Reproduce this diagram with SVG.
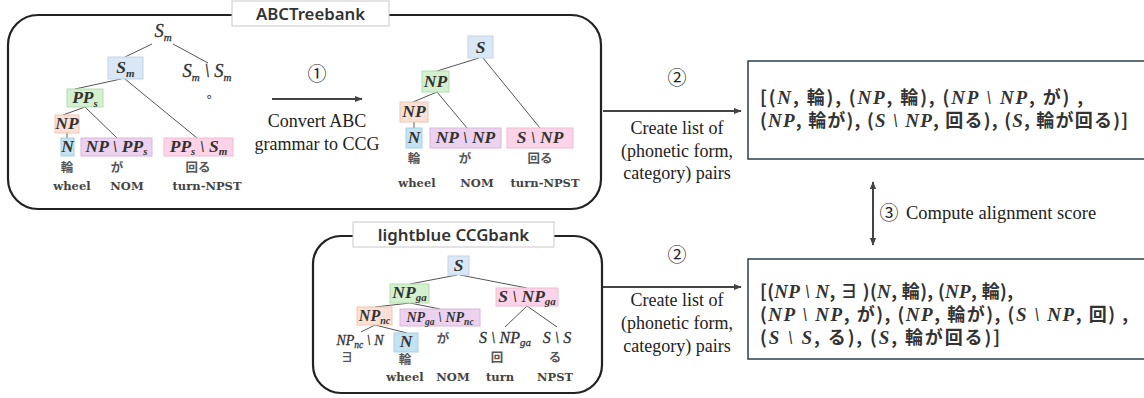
<svg xmlns="http://www.w3.org/2000/svg" width="1144" height="398" viewBox="0 0 1144 398">
<defs>
<marker id="ah" viewBox="0 0 10 10" refX="9" refY="5" markerWidth="4" markerHeight="4" orient="auto-start-reverse">
<path d="M0,1 L10,5 L0,9 z" fill="#444"/>
</marker>
<style>
.frame{fill:#fff;stroke:#222;stroke-width:2.2}
.lab{fill:#fff;stroke:#c9c9c9;stroke-width:1}
.labt{font-family:"Noto Sans","Noto Sans CJK JP",sans-serif;font-weight:600;font-size:16.8px;fill:#333;text-anchor:middle}
.cat{font-family:"Liberation Serif",serif;font-style:italic;font-weight:700;font-size:17.5px;fill:#333;text-anchor:middle}
.catn{font-family:"Liberation Serif",serif;font-style:italic;font-size:18.5px;fill:#333;stroke:#333;stroke-width:0.3;text-anchor:middle}
.sub{font-size:11px}
.jp{font-family:"Noto Sans CJK JP",sans-serif;font-weight:700;font-size:12.5px;fill:#555;text-anchor:middle}
.gl{font-family:"DejaVu Serif",serif;font-weight:700;font-size:11.5px;fill:#444;text-anchor:middle}
.tl{stroke:#555;stroke-width:1;fill:none}
.blue{fill:#dae7f4;stroke:#c3d3e6;stroke-width:1}
.cyan{fill:#c3e3f2;stroke:#a9d0e4;stroke-width:1}
.green{fill:#d3f0cf;stroke:#b5dbaf;stroke-width:1}
.peach{fill:#fbe1d5;stroke:#efc6b3;stroke-width:1}
.purple{fill:#ecd2ef;stroke:#d9b7dd;stroke-width:1}
.pink{fill:#fdd4e7;stroke:#f2b9d3;stroke-width:1}
.ser{font-family:"Liberation Serif",serif;font-size:18px;fill:#222;text-anchor:middle}
.num{font-family:"Noto Sans CJK JP",sans-serif;font-size:19px;fill:#222;text-anchor:middle}
.arr{stroke:#444;stroke-width:2;fill:none}
.res{fill:#fff;stroke:#2e3e4e;stroke-width:1.5}
.lst{font-family:"Noto Sans CJK JP",sans-serif;font-weight:700;font-size:18px;fill:#333}
.m{font-family:"Liberation Serif",serif;font-style:italic;font-weight:700;font-size:19px}
</style>
</defs>
<rect width="1144" height="398" fill="#fff"/>

<g id="abc-treebank">
<rect class="frame" x="8" y="15" width="593" height="194" rx="30"/>
<rect class="lab" x="232" y="1" width="157" height="25"/>
<text class="labt" x="310.5" y="19.5">ABCTreebank</text>
</g>

<g id="abc-tree">
<g class="tl">
<line x1="152" y1="44" x2="125" y2="57"/>
<line x1="173" y1="44" x2="208" y2="63"/>
<line x1="121" y1="79" x2="75" y2="89"/>
<line x1="125" y1="79" x2="197" y2="138"/>
<line x1="85" y1="107" x2="63" y2="115"/>
<line x1="85" y1="107" x2="117" y2="138"/>
<line x1="67" y1="133" x2="67" y2="138"/>
</g>
<text class="catn" x="163" y="37">S<tspan class="sub" dy="4">m</tspan></text>
<rect class="blue" x="108" y="57" width="35" height="22"/>
<text class="cat" x="125.5" y="73">S<tspan class="sub" dy="4">m</tspan></text>
<text class="catn" x="207" y="77">S<tspan class="sub" dy="4">m</tspan><tspan dy="-4"> \ S</tspan><tspan class="sub" dy="4">m</tspan></text>
<text class="jp" x="213" y="98">。</text>
<rect class="green" x="67" y="89" width="36" height="18"/>
<text class="cat" x="85" y="103">PP<tspan class="sub" dy="4">s</tspan></text>
<rect class="peach" x="55" y="115" width="24" height="18"/>
<text class="cat" x="67" y="129">NP</text>
<rect class="cyan" x="61" y="138" width="13" height="18"/>
<text class="cat" x="67.5" y="152">N</text>
<rect class="purple" x="81" y="138" width="71" height="18"/>
<text class="cat" x="116.5" y="152">NP \ PP<tspan class="sub" dy="3">s</tspan></text>
<rect class="pink" x="164" y="138" width="69" height="18"/>
<text class="cat" x="198.5" y="152">PP<tspan class="sub" dy="3">s</tspan><tspan dy="-3"> \ S</tspan><tspan class="sub" dy="3">m</tspan></text>
<text class="jp" x="67" y="172">輪</text>
<text class="jp" x="117" y="172">が</text>
<text class="jp" x="198" y="172">回る</text>
<text class="gl" x="72" y="190">wheel</text>
<text class="gl" x="127" y="190">NOM</text>
<text class="gl" x="207" y="190">turn-NPST</text>
</g>

<g id="converted-tree">
<g class="tl">
<line x1="479" y1="58" x2="437" y2="71"/>
<line x1="483" y1="58" x2="540" y2="128"/>
<line x1="437" y1="92" x2="413" y2="102"/>
<line x1="437" y1="92" x2="467" y2="128"/>
<line x1="414" y1="122" x2="414" y2="128"/>
</g>
<rect class="blue" x="468" y="36" width="25" height="22"/>
<text class="cat" x="480.5" y="53">S</text>
<rect class="green" x="422" y="71" width="27" height="21"/>
<text class="cat" x="435.5" y="87">NP</text>
<rect class="peach" x="400" y="102" width="28" height="20"/>
<text class="cat" x="414" y="117">NP</text>
<rect class="cyan" x="406" y="128" width="16" height="20"/>
<text class="cat" x="414" y="143">N</text>
<rect class="purple" x="430" y="128" width="71" height="20"/>
<text class="cat" x="465.5" y="143">NP \ NP</text>
<rect class="pink" x="507" y="128" width="66" height="20"/>
<text class="cat" x="540" y="143">S \ NP</text>
<text class="jp" x="414" y="163">輪</text>
<text class="jp" x="465" y="163">が</text>
<text class="jp" x="540" y="163">回る</text>
<text class="gl" x="417" y="187">wheel</text>
<text class="gl" x="477" y="187">NOM</text>
<text class="gl" x="545" y="187">turn-NPST</text>
</g>

<g id="lightblue-ccgbank">
<rect class="frame" x="313" y="236" width="289" height="157" rx="28"/>
<rect class="lab" x="353" y="222" width="201" height="25"/>
<text class="labt" x="453.5" y="240.5">lightblue CCGbank</text>
</g>

<g id="ccg-tree">
<g class="tl">
<line x1="457" y1="275" x2="410" y2="284"/>
<line x1="460" y1="275" x2="527" y2="288"/>
<line x1="410" y1="303" x2="375" y2="307"/>
<line x1="410" y1="303" x2="440" y2="309"/>
<line x1="527" y1="306" x2="505" y2="327"/>
<line x1="527" y1="306" x2="557" y2="327"/>
<line x1="375" y1="325" x2="361" y2="332"/>
<line x1="375" y1="325" x2="407" y2="333"/>
</g>
<rect class="blue" x="448" y="256" width="21" height="19"/>
<text class="cat" x="458.5" y="271">S</text>
<rect class="green" x="390" y="284" width="39" height="19"/>
<text class="cat" x="409.5" y="298">NP<tspan class="sub" dy="3">ga</tspan></text>
<rect class="pink" x="496" y="288" width="62" height="18"/>
<text class="cat" x="527" y="302">S \ NP<tspan class="sub" dy="3">ga</tspan></text>
<rect class="peach" x="357" y="307" width="35" height="18"/>
<text class="cat" x="374.5" y="321" style="font-size:16px">NP<tspan class="sub" dy="3" style="font-size:10px">nc</tspan></text>
<rect class="purple" x="400" y="309" width="80" height="17"/>
<text class="cat" x="440" y="322" style="font-size:14px">NP<tspan dy="3" style="font-size:9.5px">ga</tspan><tspan dy="-3"> \ NP</tspan><tspan dy="3" style="font-size:9.5px">nc</tspan></text>
<rect class="cyan" x="394" y="333" width="24" height="19"/>
<text class="cat" x="406" y="347">N</text>
<text class="catn" x="360" y="345" style="font-size:14px">NP<tspan dy="3" style="font-size:9.5px">nc</tspan><tspan dy="-3"> \ N</tspan></text>
<text class="jp" x="443" y="343">が</text>
<text class="catn" x="505" y="343" style="font-size:16px">S \ NP<tspan class="sub" dy="3">ga</tspan></text>
<text class="catn" x="557" y="343" style="font-size:16px">S \ S</text>
<text class="jp" x="347" y="362">∃</text>
<text class="jp" x="405" y="364">輪</text>
<text class="jp" x="497" y="362">回</text>
<text class="jp" x="555" y="362">る</text>
<text class="gl" x="405" y="381">wheel</text>
<text class="gl" x="453" y="381">NOM</text>
<text class="gl" x="500" y="381">turn</text>
<text class="gl" x="555" y="381">NPST</text>
</g>

<g id="connectors">
<line class="arr" x1="272" y1="99" x2="362" y2="99" marker-end="url(#ah)"/>
<line class="arr" x1="603" y1="111" x2="741" y2="111" marker-end="url(#ah)"/>
<line class="arr" x1="603" y1="287" x2="741" y2="287" marker-end="url(#ah)"/>
<line class="arr" x1="873" y1="182" x2="873" y2="245" marker-start="url(#ah)" marker-end="url(#ah)"/>
</g>

<g id="step-labels">
<text class="num" x="317" y="81">①</text>
<text class="ser" x="317" y="127">Convert ABC</text>
<text class="ser" x="317" y="150">grammar  to CCG</text>
<text class="num" x="677" y="85">②</text>
<text class="ser" x="677" y="134">Create list of</text>
<text class="ser" x="677" y="157">(phonetic form,</text>
<text class="ser" x="677" y="179">category) pairs</text>
<text class="num" x="677" y="262">②</text>
<text class="ser" x="677" y="306">Create list of</text>
<text class="ser" x="677" y="329">(phonetic form,</text>
<text class="ser" x="677" y="352">category) pairs</text>
<text class="num" x="889" y="220">③</text>
<text class="ser" x="906" y="219" style="text-anchor:start;font-size:18.5px">Compute alignment score</text>
</g>

<g id="abc-list">
<rect class="res" x="748" y="61" width="420" height="98"/>
<text class="lst" x="760" y="104" textLength="323" lengthAdjust="spacing">[(<tspan class="m">N</tspan>, 輪), (<tspan class="m">NP</tspan>, 輪), (<tspan class="m">NP \ NP</tspan>, が) ,</text>
<text class="lst" x="760" y="127" textLength="368" lengthAdjust="spacing">(<tspan class="m">NP</tspan>, 輪が), (<tspan class="m">S \ NP</tspan>, 回る), (<tspan class="m">S</tspan>, 輪が回る)]</text>
</g>

<g id="ccg-list">
<rect class="res" x="748" y="259" width="420" height="100"/>
<text class="lst" x="760" y="298" textLength="253" lengthAdjust="spacing">[(<tspan class="m">NP \ N</tspan>, ∃ )(<tspan class="m">N</tspan>, 輪), (<tspan class="m">NP</tspan>, 輪),</text>
<text class="lst" x="760" y="321" textLength="368" lengthAdjust="spacing">(<tspan class="m">NP \ NP</tspan>, が), (<tspan class="m">NP</tspan>, 輪が), (<tspan class="m">S \ NP</tspan>, 回) ,</text>
<text class="lst" x="760" y="344" textLength="240" lengthAdjust="spacing">(<tspan class="m">S \ S</tspan>, る), (<tspan class="m">S</tspan>, 輪が回る)]</text>
</g>
</svg>
